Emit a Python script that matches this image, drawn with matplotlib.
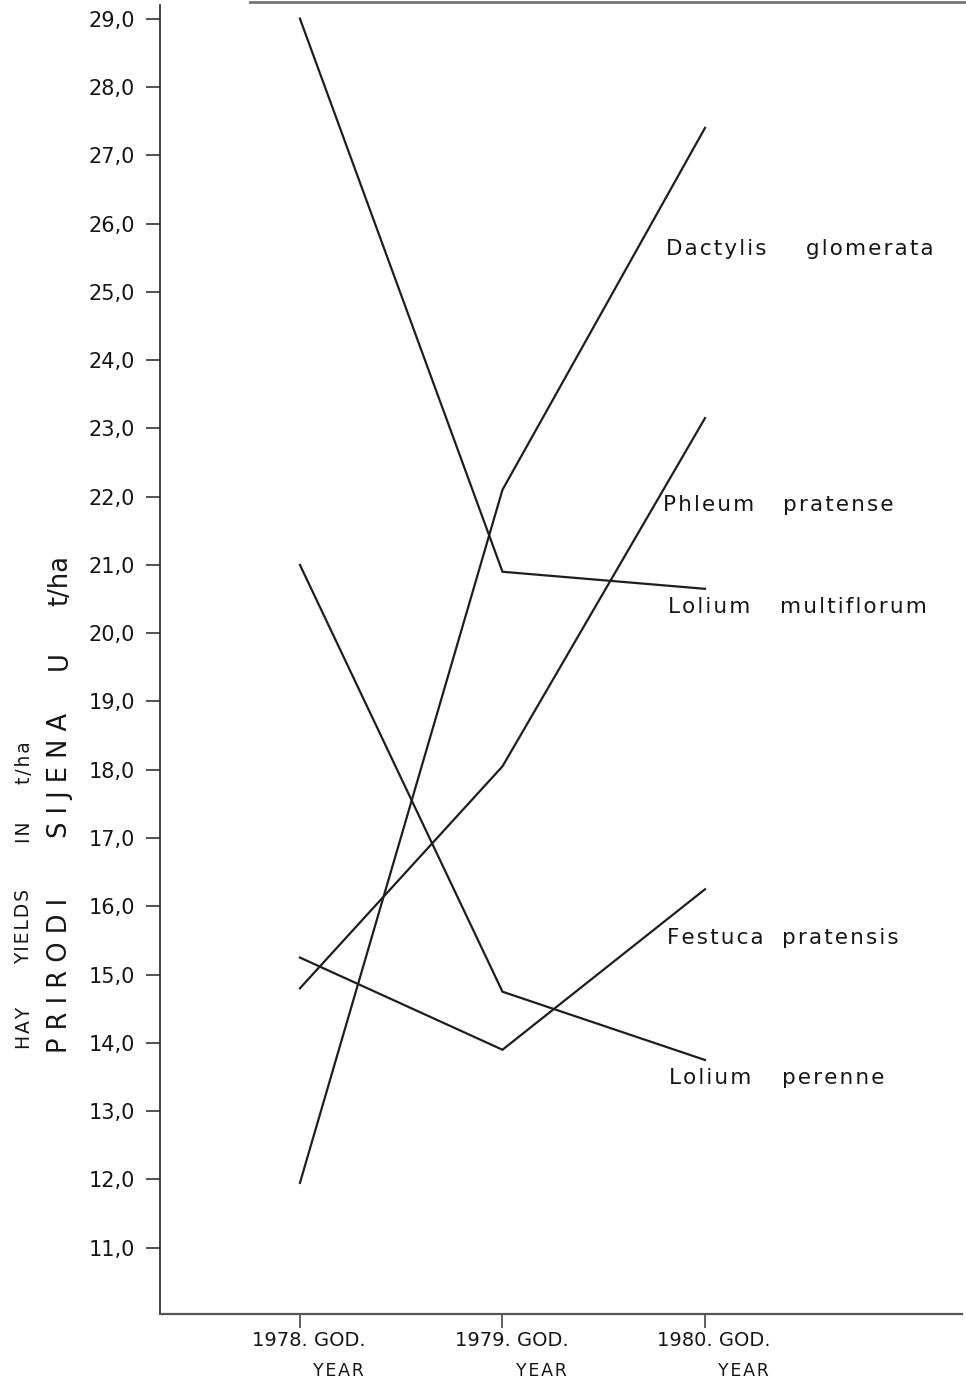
import matplotlib.pyplot as plt
import matplotlib.transforms as mtransforms
from matplotlib.lines import Line2D

# podaci - prinos sijena u t/ha
godine = ['1978. GOD.', '1979. GOD.', '1980. GOD.']
dactylis = [11.95, 22.1, 27.4]
lolium_multi = [29.0, 20.9, 20.65]
phleum = [14.8, 18.05, 23.15]
festuca = [15.25, 13.9, 16.25]
lolium_per = [21.0, 14.75, 13.75]
y_ticks = list(range(11, 30))

plt.rcParams['font.family'] = ['DejaVu Sans']

fig = plt.figure(figsize=(9.66, 13.82), dpi=100)
ax = fig.add_axes([160/966, 1 - 1314/1382, 802/966, 1309/1382])

x = range(len(godine))
for serija in [dactylis, lolium_multi, phleum, festuca, lolium_per]:
    ax.plot(x, serija, color='#1e1e1e', linewidth=1.6, solid_joinstyle='miter')

ax.set_xlim(-0.691, 3.269)
ax.set_ylim(10.03, 29.2)

ax.spines['top'].set_visible(False)
ax.spines['right'].set_visible(False)
ax.spines['left'].set_color('#333333')
ax.spines['bottom'].set_color('#555555')
ax.spines['left'].set_linewidth(1.3)
ax.spines['bottom'].set_linewidth(1.6)

ax.set_yticks(y_ticks)
ax.set_yticklabels([('%.1f' % v).replace('.', ',') for v in y_ticks], fontsize=15, color='#161616')
ax.tick_params(axis='y', direction='out', length=10, width=1.2, pad=8, color='#333333')

ax.set_xticks(list(x))
ax.set_xticklabels([])
ax.tick_params(axis='x', direction='out', length=10, width=1.2, color='#444444')

hs = '\u200a'  # razmak medju slovima

# natpisi ispod x osi
trans = mtransforms.blended_transform_factory(ax.transData, ax.transAxes)
for i, g in enumerate(godine):
    ax.text(i + 0.045, -0.0205, g, transform=trans, ha='center', va='center',
            fontsize=14, color='#161616')
    ax.text(i + 0.19, -0.0435, hs.join('YEAR'), transform=trans, ha='center', va='center',
            fontsize=12.5, color='#161616')

# nazivi vrsta
oznake = [
    ('Dactylis', 'glomerata', 25.63, 1.807, 2.499),
    ('Phleum', 'pratense', 21.88, 1.793, 2.385),
    ('Lolium', 'multiflorum', 20.39, 1.817, 2.37),
    ('Festuca', 'pratensis', 15.54, 1.81, 2.38),
    ('Lolium', 'perenne', 13.49, 1.82, 2.38),
]
for w1, w2, yy, x1, x2 in oznake:
    ax.text(x1, yy, hs.join(w1), fontsize=15.5, va='center', ha='left', color='#161616')
    ax.text(x2, yy, hs.join(w2), fontsize=15.5, va='center', ha='left', color='#161616')

# naslovi osi y (engleski)
for rijec, yc in [('HAY', 1028), ('YIELDS', 927), ('IN', 832), ('t/ha', 763)]:
    fig.text(24/966, 1 - yc/1382, hs.join(rijec), rotation=90, ha='center', va='center',
             fontsize=13.5, color='#161616')
# naslovi osi y (hrvatski)
for rijec, yc in [('P R I R O D I', 975), ('S I J E N A', 775), ('U', 661), ('t/ha', 581)]:
    fig.text(60/966, 1 - yc/1382, rijec, rotation=90, ha='center', va='center',
             fontsize=18.5, color='#161616')

# rub skena na vrhu
fig.add_artist(Line2D([250/966, 1], [1 - 1.5/1382, 1 - 1.5/1382], transform=fig.transFigure,
                      color='#777777', linewidth=2))

fig.savefig('out.png', dpi=100)
